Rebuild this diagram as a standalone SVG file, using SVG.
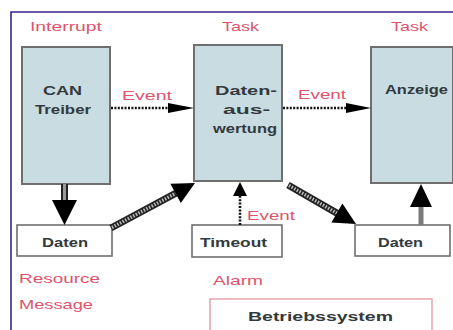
<svg xmlns="http://www.w3.org/2000/svg" width="453" height="330" viewBox="0 0 453 330">
  <style>
    .task { fill: #c9dce1; stroke: #6f6f6f; stroke-width: 2; }
    .res { fill: #ffffff; stroke: #6f6f6f; stroke-width: 1.6; }
    .lbl { font-family: "Liberation Sans", Arial, sans-serif; font-weight: bold; font-size: 12.5px; fill: #333a3d; }
    .red { font-family: "Liberation Sans", Arial, sans-serif; font-size: 13px; fill: #e0536c; }
    .dot { stroke: #111; stroke-width: 2.6; stroke-dasharray: 2 1.4; fill: none; }
    .shaft-out { stroke: #222; stroke-width: 7; fill: none; }
    .shaft-in { stroke: #9a9a9a; stroke-width: 3; fill: none; }
    .hatch { stroke: #bbbbbb; stroke-width: 3.5; stroke-dasharray: 1.5 1.5; fill: none; }
    .head { fill: #000; }
  </style>

  <rect width="453" height="330" fill="#ffffff"/>

  <!-- outer frame: top and left edges -->
  <path d="M11,330 V12 H453" fill="none" stroke="#3b2290" stroke-width="1.6"/>

  <!-- kind labels -->
  <text class="red" x="30" y="31" textLength="72" lengthAdjust="spacingAndGlyphs">Interrupt</text>
  <text class="red" x="222" y="31" textLength="37" lengthAdjust="spacingAndGlyphs">Task</text>
  <text class="red" x="391" y="31" textLength="37" lengthAdjust="spacingAndGlyphs">Task</text>

  <g id="can-treiber">
    <rect class="task" x="22" y="47" width="88" height="137"/>
    <text class="lbl" x="43" y="95" textLength="39" lengthAdjust="spacingAndGlyphs">CAN</text>
    <text class="lbl" x="35" y="114" textLength="56" lengthAdjust="spacingAndGlyphs">Treiber</text>
  </g>

  <g id="datenauswertung">
    <rect class="task" x="194" y="45" width="88" height="136"/>
    <text class="lbl" x="215" y="95" textLength="62" lengthAdjust="spacingAndGlyphs">Daten-</text>
    <text class="lbl" x="223" y="114" textLength="47" lengthAdjust="spacingAndGlyphs">aus-</text>
    <text class="lbl" x="213" y="133" textLength="64" lengthAdjust="spacingAndGlyphs">wertung</text>
  </g>

  <g id="anzeige">
    <rect class="task" x="371" y="47" width="82" height="136"/>
    <text class="lbl" x="385" y="94" textLength="63" lengthAdjust="spacingAndGlyphs">Anzeige</text>
  </g>

  <g id="daten-1">
    <rect class="res" x="17" y="225" width="95" height="31"/>
    <text class="lbl" x="42" y="247" textLength="46" lengthAdjust="spacingAndGlyphs">Daten</text>
  </g>

  <g id="timeout">
    <rect class="res" x="192" y="225" width="90" height="32"/>
    <text class="lbl" x="200" y="247" textLength="67" lengthAdjust="spacingAndGlyphs">Timeout</text>
  </g>

  <g id="daten-2">
    <rect class="res" x="355" y="225" width="95" height="31"/>
    <text class="lbl" x="378" y="247" textLength="45" lengthAdjust="spacingAndGlyphs">Daten</text>
  </g>

  <g id="betriebssystem">
    <rect x="210" y="299" width="222" height="40" fill="#ffffff" stroke="#e9a9b2" stroke-width="1.6"/>
    <text class="lbl" x="248" y="321" font-size="14" textLength="145" lengthAdjust="spacingAndGlyphs">Betriebssystem</text>
  </g>

  <!-- resource / alarm labels -->
  <text class="red" x="19" y="283" textLength="81" lengthAdjust="spacingAndGlyphs">Resource</text>
  <text class="red" x="19" y="309" textLength="74" lengthAdjust="spacingAndGlyphs">Message</text>
  <text class="red" x="213" y="285" textLength="50" lengthAdjust="spacingAndGlyphs">Alarm</text>

  <g id="connectors">
    <!-- events (dotted) -->
    <line class="dot" x1="111" y1="108" x2="172" y2="108"/>
    <polygon class="head" points="168,103 194,108 168,113"/>
    <text class="red" x="122" y="100" textLength="50" lengthAdjust="spacingAndGlyphs">Event</text>

    <line class="dot" x1="283" y1="108" x2="350" y2="108"/>
    <polygon class="head" points="346,103 371,108 346,113"/>
    <text class="red" x="298" y="99" textLength="48" lengthAdjust="spacingAndGlyphs">Event</text>

    <line class="dot" x1="240" y1="225" x2="240" y2="195"/>
    <polygon class="head" points="233,196 240,182 247,196"/>
    <text class="red" x="247" y="220" textLength="48" lengthAdjust="spacingAndGlyphs">Event</text>

    <!-- CAN Treiber writes Daten -->
    <line class="shaft-out" x1="64.5" y1="184" x2="64.5" y2="203"/>
    <line class="shaft-in" x1="64.5" y1="184" x2="64.5" y2="203"/>
    <polygon class="head" points="52,200 77,200 64.5,225"/>

    <!-- Daten read by Datenauswertung -->
    <line class="shaft-out" x1="111" y1="228" x2="177.4" y2="192.4"/>
    <line class="hatch" x1="112" y1="227.5" x2="177.4" y2="192.4"/>
    <polygon class="head" points="195,183 180.8,203.1 170.4,183.7"/>

    <!-- Datenauswertung writes Daten -->
    <line class="shaft-out" x1="288" y1="185" x2="338.6" y2="214.1"/>
    <line class="hatch" x1="289" y1="185.6" x2="338.6" y2="214.1"/>
    <polygon class="head" points="356,224 331.4,222.6 342.4,203.6"/>

    <!-- Daten read by Anzeige -->
    <line x1="421" y1="225" x2="421" y2="204" stroke="#7a7a7a" stroke-width="5"/>
    <polygon class="head" points="410,207 432,207 421,184"/>
  </g>
</svg>
